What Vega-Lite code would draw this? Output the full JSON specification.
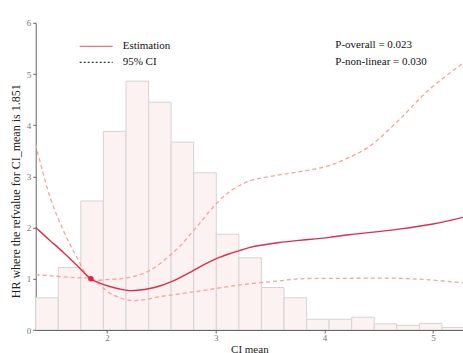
{
  "$schema": "https://vega.github.io/schema/vega-lite/v6.json",
  "autosize": "none",
  "padding": {"left": 35.7, "top": 22.8, "right": 0, "bottom": 23},
  "width": 427.3,
  "height": 307.2,
  "config": {
    "font": "Liberation Serif, Times New Roman, serif",
    "view": {"stroke": null},
    "axis": {
      "grid": false,
      "labelFont": "Liberation Serif, Times New Roman, serif",
      "labelFontSize": 9,
      "labelColor": "#777777",
      "tickColor": "#666666",
      "domainColor": "#666666",
      "tickSize": 3,
      "labelPadding": 2,
      "titleFont": "Liberation Serif, Times New Roman, serif",
      "titleFontSize": 11,
      "titleFontWeight": "normal",
      "titleColor": "#222222"
    },
    "legend": {
      "labelFont": "Liberation Serif, Times New Roman, serif"
    }
  },
  "datasets": {
    "hist": [
      {"x0": 1.343, "x1": 1.551, "h": 0.63},
      {"x0": 1.551, "x1": 1.758, "h": 1.22},
      {"x0": 1.758, "x1": 1.966, "h": 2.52},
      {"x0": 1.966, "x1": 2.174, "h": 3.88},
      {"x0": 2.174, "x1": 2.382, "h": 4.86},
      {"x0": 2.382, "x1": 2.589, "h": 4.45},
      {"x0": 2.589, "x1": 2.797, "h": 3.67},
      {"x0": 2.797, "x1": 3.005, "h": 3.07},
      {"x0": 3.005, "x1": 3.212, "h": 1.87},
      {"x0": 3.212, "x1": 3.420, "h": 1.41},
      {"x0": 3.420, "x1": 3.628, "h": 0.83},
      {"x0": 3.628, "x1": 3.836, "h": 0.63},
      {"x0": 3.836, "x1": 4.043, "h": 0.21},
      {"x0": 4.043, "x1": 4.251, "h": 0.21},
      {"x0": 4.251, "x1": 4.459, "h": 0.25},
      {"x0": 4.459, "x1": 4.666, "h": 0.12},
      {"x0": 4.666, "x1": 4.874, "h": 0.09},
      {"x0": 4.874, "x1": 5.082, "h": 0.13},
      {"x0": 5.082, "x1": 5.290, "h": 0.05}
    ],
    "curves": [
      {"c": "est", "x": 1.343, "y": 2.00},
      {"c": "est", "x": 1.474, "y": 1.75},
      {"c": "est", "x": 1.596, "y": 1.52},
      {"c": "est", "x": 1.719, "y": 1.27},
      {"c": "est", "x": 1.850, "y": 1.00},
      {"c": "est", "x": 1.940, "y": 0.91},
      {"c": "est", "x": 2.025, "y": 0.85},
      {"c": "est", "x": 2.117, "y": 0.80},
      {"c": "est", "x": 2.208, "y": 0.77},
      {"c": "est", "x": 2.300, "y": 0.78},
      {"c": "est", "x": 2.392, "y": 0.81},
      {"c": "est", "x": 2.483, "y": 0.86},
      {"c": "est", "x": 2.575, "y": 0.93},
      {"c": "est", "x": 2.667, "y": 1.02},
      {"c": "est", "x": 2.758, "y": 1.12},
      {"c": "est", "x": 2.850, "y": 1.23},
      {"c": "est", "x": 2.942, "y": 1.33},
      {"c": "est", "x": 3.034, "y": 1.42},
      {"c": "est", "x": 3.125, "y": 1.49},
      {"c": "est", "x": 3.217, "y": 1.55},
      {"c": "est", "x": 3.309, "y": 1.61},
      {"c": "est", "x": 3.401, "y": 1.65},
      {"c": "est", "x": 3.584, "y": 1.71},
      {"c": "est", "x": 3.768, "y": 1.75},
      {"c": "est", "x": 4.043, "y": 1.81},
      {"c": "est", "x": 4.227, "y": 1.86},
      {"c": "est", "x": 4.685, "y": 1.97},
      {"c": "est", "x": 5.000, "y": 2.07},
      {"c": "est", "x": 5.275, "y": 2.20},
      {"c": "hi", "x": 1.343, "y": 3.62},
      {"c": "hi", "x": 1.474, "y": 2.60},
      {"c": "hi", "x": 1.596, "y": 1.95},
      {"c": "hi", "x": 1.719, "y": 1.43},
      {"c": "hi", "x": 1.850, "y": 1.00},
      {"c": "hi", "x": 2.025, "y": 0.99},
      {"c": "hi", "x": 2.117, "y": 1.00},
      {"c": "hi", "x": 2.208, "y": 1.03},
      {"c": "hi", "x": 2.300, "y": 1.08},
      {"c": "hi", "x": 2.392, "y": 1.16},
      {"c": "hi", "x": 2.483, "y": 1.29},
      {"c": "hi", "x": 2.575, "y": 1.45},
      {"c": "hi", "x": 2.667, "y": 1.63},
      {"c": "hi", "x": 2.758, "y": 1.85},
      {"c": "hi", "x": 2.850, "y": 2.08},
      {"c": "hi", "x": 2.942, "y": 2.32},
      {"c": "hi", "x": 3.034, "y": 2.53},
      {"c": "hi", "x": 3.125, "y": 2.70},
      {"c": "hi", "x": 3.217, "y": 2.82},
      {"c": "hi", "x": 3.309, "y": 2.91},
      {"c": "hi", "x": 3.401, "y": 2.96},
      {"c": "hi", "x": 3.584, "y": 3.03},
      {"c": "hi", "x": 3.768, "y": 3.09},
      {"c": "hi", "x": 4.043, "y": 3.21},
      {"c": "hi", "x": 4.227, "y": 3.37},
      {"c": "hi", "x": 4.410, "y": 3.58},
      {"c": "hi", "x": 4.685, "y": 4.10},
      {"c": "hi", "x": 4.960, "y": 4.69},
      {"c": "hi", "x": 5.275, "y": 5.21},
      {"c": "lo", "x": 1.343, "y": 1.08},
      {"c": "lo", "x": 1.596, "y": 1.04},
      {"c": "lo", "x": 1.719, "y": 1.02},
      {"c": "lo", "x": 1.850, "y": 1.00},
      {"c": "lo", "x": 2.025, "y": 0.72},
      {"c": "lo", "x": 2.117, "y": 0.63},
      {"c": "lo", "x": 2.208, "y": 0.58},
      {"c": "lo", "x": 2.300, "y": 0.58},
      {"c": "lo", "x": 2.392, "y": 0.61},
      {"c": "lo", "x": 2.483, "y": 0.65},
      {"c": "lo", "x": 2.850, "y": 0.76},
      {"c": "lo", "x": 3.217, "y": 0.88},
      {"c": "lo", "x": 3.584, "y": 0.96},
      {"c": "lo", "x": 3.768, "y": 1.00},
      {"c": "lo", "x": 4.227, "y": 1.01},
      {"c": "lo", "x": 4.685, "y": 1.01},
      {"c": "lo", "x": 4.960, "y": 0.98},
      {"c": "lo", "x": 5.275, "y": 0.92}
    ],
    "ref": [{"x": 1.851, "y": 1.0}],
    "notes": [
      {"x": 4.1, "y": 5.56, "label": "P-overall = 0.023"},
      {"x": 4.1, "y": 5.24, "label": "P-non-linear = 0.030"}
    ],
    "legendrows": []
  },
  "layer": [
    {
      "data": {"name": "hist"},
      "mark": {"type": "rect", "fill": "#fcf2f1", "stroke": "#d4d4d4", "strokeWidth": 1, "clip": true},
      "encoding": {
        "x": {"field": "x0", "type": "quantitative", "scale": {"domain": [1.343, 5.275], "nice": false, "zero": false},
              "axis": {"values": [2, 3, 4, 5], "format": "d", "labelPadding": 0, "title": "CI mean",
                       "titleY": 19, "titleBaseline": "middle"}},
        "x2": {"field": "x1"},
        "y": {"field": "h", "type": "quantitative", "scale": {"domain": [0, 6], "nice": false},
              "axis": {"values": [0, 1, 2, 3, 4, 5, 6], "title": "HR where the refvalue for CI_mean is 1.851",
                       "titleFontSize": 12, "titleX": -20.5, "titleY": 168, "titleBaseline": "middle"}},
        "y2": {"datum": 0}
      }
    },
    {
      "mark": {"type": "rule", "stroke": "#c4c4c4", "strokeDash": [2, 3], "strokeWidth": 1.2},
      "encoding": {"y": {"datum": 1}}
    },
    {
      "data": {"name": "curves"},
      "transform": [{"filter": "datum.c !== 'est'"}],
      "mark": {"type": "line", "stroke": "#f9a19d", "strokeDash": [4, 3], "strokeWidth": 1.3, "interpolate": "catmull-rom", "clip": true},
      "encoding": {
        "x": {"field": "x", "type": "quantitative"},
        "y": {"field": "y", "type": "quantitative"},
        "detail": {"field": "c"}
      }
    },
    {
      "data": {"name": "curves"},
      "transform": [{"filter": "datum.c === 'est'"}],
      "mark": {"type": "line", "stroke": "#dc2f50", "strokeWidth": 1.4, "interpolate": "catmull-rom", "clip": true},
      "encoding": {
        "x": {"field": "x", "type": "quantitative"},
        "y": {"field": "y", "type": "quantitative"}
      }
    },
    {
      "data": {"name": "ref"},
      "mark": {"type": "point", "filled": true, "color": "#dc2346", "size": 30, "opacity": 1},
      "encoding": {
        "x": {"field": "x", "type": "quantitative"},
        "y": {"field": "y", "type": "quantitative"}
      }
    },
    {
      "data": {"name": "notes"},
      "mark": {"type": "text", "align": "left", "baseline": "middle", "font": "Liberation Serif, Times New Roman, serif", "fontSize": 11, "color": "#111111"},
      "encoding": {
        "x": {"field": "x", "type": "quantitative"},
        "y": {"field": "y", "type": "quantitative"},
        "text": {"field": "label"}
      }
    },
    {
      "data": {"name": "legendrows"},
      "mark": {"type": "line", "strokeWidth": 1.2},
      "encoding": {
        "x": {"field": "x", "type": "quantitative"},
        "y": {"field": "y", "type": "quantitative"},
        "color": {"field": "s", "type": "nominal",
                  "scale": {"domain": ["Estimation", "95% CI"], "range": ["#ee7080", "#333333"]},
                  "legend": {"title": null, "orient": "none", "legendX": 54, "legendY": 17,
                             "symbolType": "M-3,0H3", "symbolSize": 121, "symbolStrokeWidth": 1.2,
                             "labelFont": "Liberation Serif, Times New Roman, serif", "labelFontSize": 11, "labelColor": "#111111",
                             "labelOffset": 20, "rowPadding": 4}},
        "strokeDash": {"field": "s", "type": "nominal",
                       "scale": {"domain": ["Estimation", "95% CI"], "range": [[1, 0], [2, 2]]},
                       "legend": {"title": null, "orient": "none", "legendX": 54, "legendY": 17,
                                  "symbolType": "M-3,0H3", "symbolSize": 121, "symbolStrokeWidth": 1.2,
                                  "labelFont": "Liberation Serif, Times New Roman, serif", "labelFontSize": 11, "labelColor": "#111111",
                                  "labelOffset": 20, "rowPadding": 4}}
      }
    }
  ]
}
